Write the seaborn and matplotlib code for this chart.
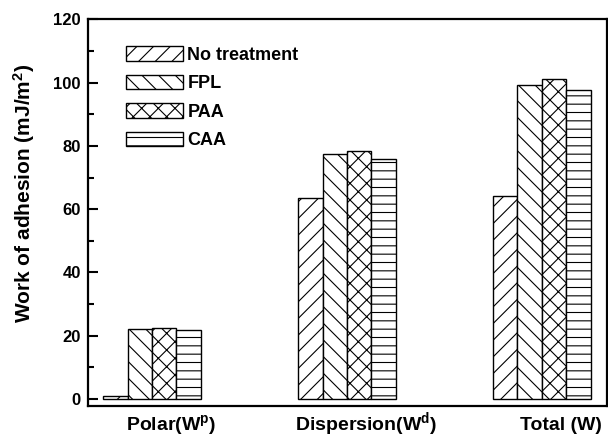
import matplotlib
matplotlib.use("Agg")
import matplotlib.pyplot as plt
from matplotlib.ticker import MultipleLocator
import numpy as np
import pandas as pd
import seaborn as sns

# Work of adhesion components for each surface treatment
components = ["Polar", "Dispersion", "Total"]
component_labels = [r"Polar(W$^{p}$)", r"Dispersion(W$^{d}$)", r"Total (W)"]
treatments = ["No treatment", "FPL", "PAA", "CAA"]
no_treatment = [1.0, 63.6, 64.3]
fpl = [22.1, 77.4, 99.4]
paa = [22.4, 78.3, 101.0]
caa = [21.9, 75.8, 97.8]
hatches = ["//", "\\\\", "xx", "--"]

sns.set_style("ticks")
plt.rcParams["font.family"] = ["Liberation Sans", "DejaVu Sans"]
plt.rcParams["font.weight"] = "bold"
plt.rcParams["text.color"] = "black"
plt.rcParams["axes.labelcolor"] = "black"
plt.rcParams["axes.edgecolor"] = "black"
plt.rcParams["xtick.color"] = "black"
plt.rcParams["ytick.color"] = "black"
plt.rcParams["mathtext.fontset"] = "custom"
plt.rcParams["mathtext.rm"] = "Liberation Sans:bold"
plt.rcParams["mathtext.it"] = "Liberation Sans:bold"
plt.rcParams["mathtext.bf"] = "Liberation Sans:bold"
plt.rcParams["mathtext.default"] = "rm"
plt.rcParams["hatch.linewidth"] = 0.8
plt.rcParams["hatch.color"] = "black"

df = pd.DataFrame({
    "component": components * 4,
    "treatment": np.repeat(treatments, 3),
    "value": no_treatment + fpl + paa + caa,
})

fig = plt.figure(figsize=(6.08, 4.37), dpi=100)
ax = fig.add_axes([0.1442, 0.0709, 0.9979 - 0.1442, 0.9558 - 0.0709])

sns.barplot(data=df, x="component", y="value", hue="treatment",
            order=components, hue_order=treatments,
            palette=["white"] * 4, edgecolor="black", linewidth=1.0,
            width=0.5, gap=0, errorbar=None, legend=False, ax=ax)

for container, hatch in zip(ax.containers, hatches):
    for bar in container:
        bar.set_hatch(hatch)
        bar.set_facecolor("white")
        bar.set_edgecolor("black")

ax.set_xlim(-0.33, 2.333)
ax.set_ylim(-2.2, 120)
ax.yaxis.set_major_locator(MultipleLocator(20))
ax.yaxis.set_minor_locator(MultipleLocator(10))
ax.tick_params(axis="y", which="major", direction="in", length=7, width=1.5,
               labelsize=12, pad=5)
ax.tick_params(axis="y", which="minor", direction="in", length=4.5, width=1.5)
for lab in ax.get_yticklabels():
    lab.set_fontweight("bold")

ax.set_xticks([i + 0.1 for i in range(len(components))])
ax.set_xticklabels(component_labels, fontsize=14, fontweight="bold")
ax.tick_params(axis="x", length=0, pad=17)
for lab in ax.get_xticklabels():
    lab.set_verticalalignment("baseline")

ax.set_xlabel("")
ax.set_ylabel(r"Work of adhesion (mJ/m$^{2}$)", fontsize=15, fontweight="bold")
ax.yaxis.set_label_coords(-0.097, 0.551)

for spine in ax.spines.values():
    spine.set_linewidth(1.6)
    spine.set_visible(True)

ax.legend(handles=list(ax.containers), labels=treatments, loc="upper left",
          bbox_to_anchor=(0.074, 0.93), frameon=False,
          handlelength=3.15, handleheight=0.83, handletextpad=0.25,
          labelspacing=0.62, borderpad=0, borderaxespad=0,
          prop={"weight": "bold", "size": 13})

fig.savefig("out.png", dpi=100)
